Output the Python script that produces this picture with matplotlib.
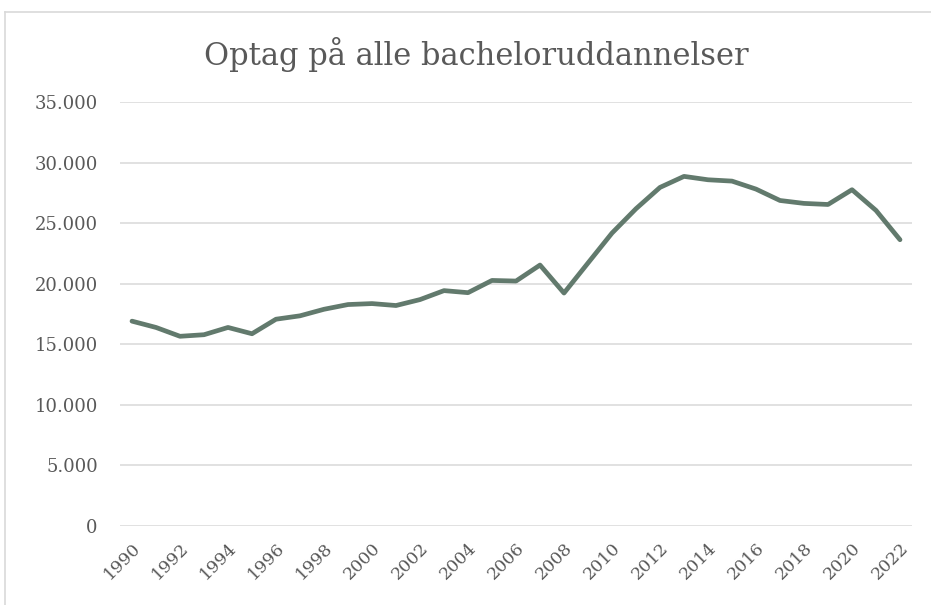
import matplotlib.pyplot as plt
from matplotlib.lines import Line2D
from matplotlib.ticker import FuncFormatter

years = list(range(1990, 2023))
optag = [16910, 16390, 15660, 15790, 16390, 15870, 17070, 17350, 17890, 18280,
         18360, 18200, 18690, 19430, 19260, 20270, 20220, 21540, 19230, 21710,
         24180, 26190, 27950, 28860, 28580, 28470, 27810, 26870, 26630, 26540,
         27760, 26050, 23630]
title = "Optag på alle bacheloruddannelser"

W, H = 931, 605
fig = plt.figure(figsize=(W / 100, H / 100), dpi=100)
plt.rcParams['font.family'] = ['DejaVu Serif']

# outer chart border: only left and top edges are inside the picture
bx, by = 5 / W, 1 - 12 / H
fig.add_artist(Line2D([bx, bx], [0, by], transform=fig.transFigure,
                      color='#d9d9d9', linewidth=1.2))
fig.add_artist(Line2D([bx, 1], [by, by], transform=fig.transFigure,
                      color='#d9d9d9', linewidth=1.2))

ax = fig.add_axes([120 / W, 1 - 526 / H, (912 - 120) / W, (526 - 102) / H])
x = list(range(len(years)))
ax.plot(x, optag, color='#627a6d', linewidth=3.4, solid_joinstyle='round',
        solid_capstyle='round')

ax.set_xlim(-0.5, len(years) - 0.5)
ax.set_ylim(0, 35000)
ax.set_yticks(range(0, 35001, 5000))
ax.yaxis.set_major_formatter(FuncFormatter(lambda v, p: f"{int(v):,}".replace(",", ".")))
ax.set_xticks(x[::2])
ax.set_xticklabels([str(y) for y in years[::2]], rotation=45, ha='right',
                   rotation_mode='anchor')

ax.grid(axis='y', color='#d9d9d9', linewidth=1.1)
ax.set_axisbelow(True)
for s in ax.spines.values():
    s.set_visible(False)
ax.tick_params(length=0, colors='#595959')
ax.tick_params(axis='y', pad=16, labelsize=13)
ax.tick_params(axis='x', pad=10, labelsize=12.5)

fig.text(0.5 * (205 + 748) / W, 1 - 55 / H, title, ha='center', va='center',
         fontsize=22, color='#595959')

fig.savefig("out.png", dpi=100)
